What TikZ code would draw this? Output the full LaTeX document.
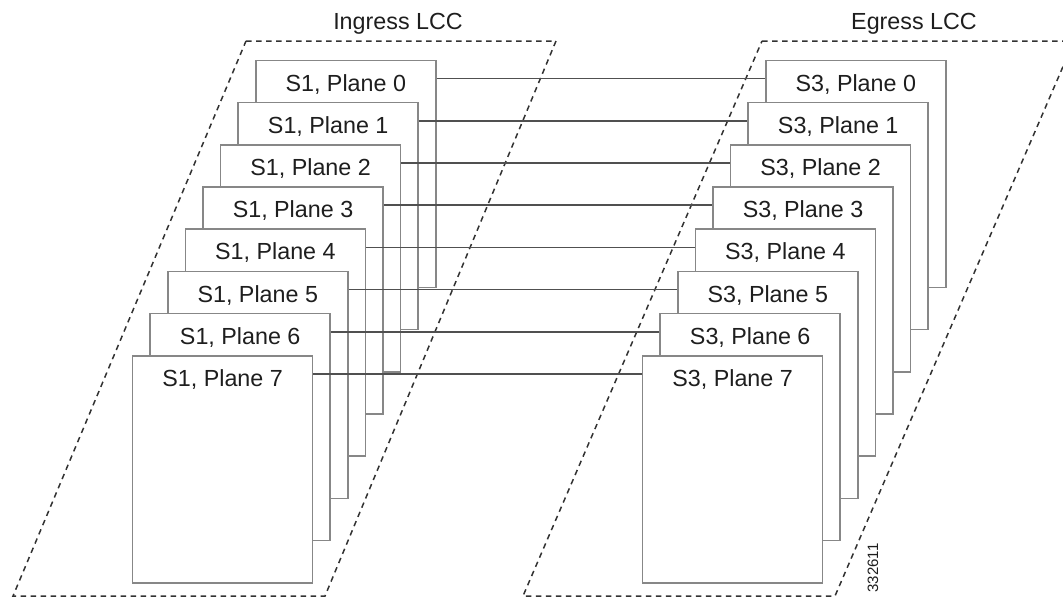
\documentclass[tikz,border=0pt]{standalone}
\usepackage{fontspec}
\setmainfont{Liberation Sans}
\definecolor{boxgray}{RGB}{135,135,135}
\definecolor{linkgray}{RGB}{80,80,80}
\definecolor{dashgray}{RGB}{50,50,50}
\definecolor{txtgray}{RGB}{30,30,30}
\begin{document}
\begin{tikzpicture}[x=1pt,y=-1pt]
  \tikzset{
    card/.style={draw=boxgray, line width=1.6pt, fill=white, minimum width=180pt, minimum height=227pt, inner sep=0pt, anchor=north west},
    cardtext/.style={anchor=base, text=txtgray, font=\fontsize{23.3}{28}\selectfont},
    link/.style={draw=linkgray, line width=1.6pt},
    lcc/.style={draw=dashgray, line width=1.5pt, dash pattern=on 5.5pt off 4.5pt},
  }
  \clip (0,0) rectangle (1063,598);
  % line cards
  \draw[lcc] (246,41) -- (556,41) -- (325,596) -- (13,596) -- cycle;
  \draw[lcc] (762,41) -- (1074,41) -- (835,596) -- (523,596) -- cycle;
  \node[cardtext] (ingress) at (398,29.3) {Ingress LCC};
  \node[cardtext] (egress) at (914,29.3) {Egress LCC};
  % planes, back to front
  \foreach \i in {0,...,7} {
    \node[card] (in\i) at ({255-17.6*\i},{59.5+42.2*\i}) {};
    \node[cardtext] (in\i-txt) at ([yshift=-31.5pt]in\i.north) {S1, Plane \i};
    \node[card] (out\i) at ({765-17.6*\i},{59.5+42.2*\i}) {};
    \node[cardtext] (out\i-txt) at ([yshift=-31.5pt]out\i.north) {S3, Plane \i};
  }
  % fabric links
  \foreach \i in {0,...,7}
    \draw[link] ([yshift=-19pt]in\i.north east) -- ([yshift=-19pt]out\i.north west);
  \node[rotate=90, text=txtgray, font=\fontsize{15}{17}\selectfont] (figno) at (873,568) {332611};
\end{tikzpicture}
\end{document}
